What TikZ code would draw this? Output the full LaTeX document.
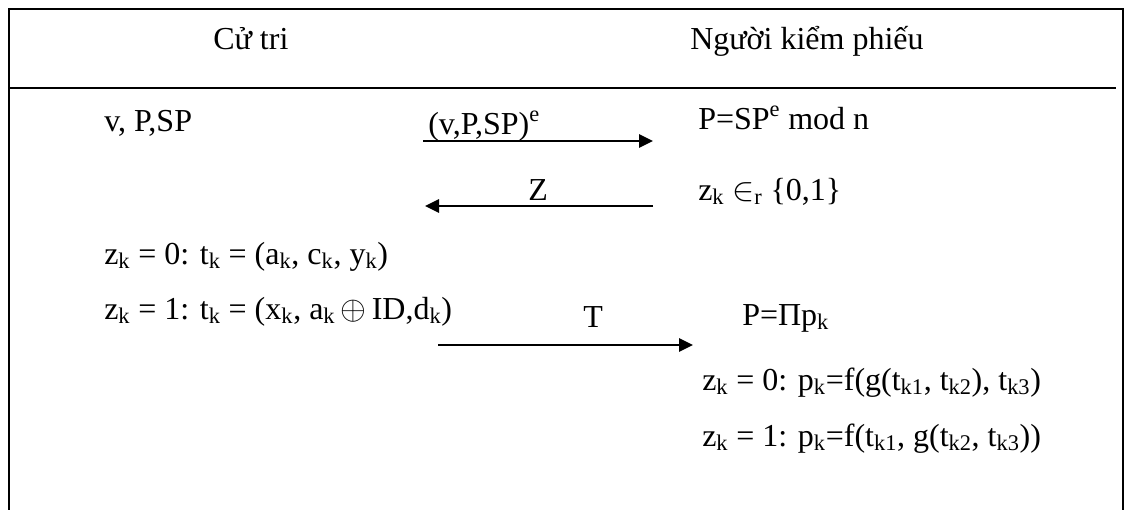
\documentclass[tikz,border=0pt]{standalone}
\usepackage{fontspec}
\setmainfont{Liberation Serif}
\usetikzlibrary{arrows.meta, positioning}

\begin{document}
\begin{tikzpicture}[x=0.75pt, y=-0.75pt,
    txt/.style={anchor=base west, inner sep=0pt, font=\fontsize{24}{28}\selectfont},
    arr/.style={-{Triangle[length=10.5pt, width=10pt]}, line width=1.5pt},
    frame/.style={line width=1.5pt}
  ]
  \useasboundingbox (0,0) rectangle (1124,510);

  % khung bang
  \draw[frame] (8.5,510) -- (8.5,9) -- (1122.5,9) -- (1122.5,510);
  \draw[frame] (8.5,88) -- (1116,88);

  % tieu de
  \node[txt] (voter) at (213,50) {Cử tri};
  \node[txt] (teller) at (690,50) {Người kiểm phiếu};

  % cu tri
  \node[txt] (vote) at (104,132) {v, P,SP};
  \node[txt] (tzero) at (104,264) {z\textsubscript{k} = 0: t\textsubscript{k} = (a\textsubscript{k}, c\textsubscript{k}, y\textsubscript{k})};
  \node[txt] (tone) at (104,319) {z\textsubscript{k} = 1: t\textsubscript{k} = (x\textsubscript{k}, a\textsubscript{k}\,$\oplus$\,ID,d\textsubscript{k})};

  % nguoi kiem phieu
  \node[txt] (check) at (698,129) {P=SP\textsuperscript{e} mod n};
  \node[txt] (chal) at (698,200) {z\textsubscript{k} $\in$\textsubscript{r} \{0,1\}};
  \node[txt] (prod) at (742,325) {P=Πp\textsubscript{k}};
  \node[txt] (pzero) at (702,390) {z\textsubscript{k} = 0: p\textsubscript{k}=f(g(t\textsubscript{k1}, t\textsubscript{k2}), t\textsubscript{k3})};
  \node[txt] (pone) at (702,446) {z\textsubscript{k} = 1: p\textsubscript{k}=f(t\textsubscript{k1}, g(t\textsubscript{k2}, t\textsubscript{k3}))};

  % thong diep
  \coordinate (m1a) at (423,141);
  \coordinate (m1b) at (653,141);
  \coordinate (m2a) at (653,206);
  \coordinate (m2b) at (425,206);
  \coordinate (m3a) at (438,345);
  \coordinate (m3b) at (693,345);

  \node[txt] (m1lbl) at (428,134) {(v,P,SP)\textsuperscript{e}};
  \node[txt] (m2lbl) at (528,200) {Z};
  \node[txt] (m3lbl) at (583,327) {T};

  \draw[arr] (m1a) -- (m1b);
  \draw[arr] (m2a) -- (m2b);
  \draw[arr] (m3a) -- (m3b);
\end{tikzpicture}
\end{document}
